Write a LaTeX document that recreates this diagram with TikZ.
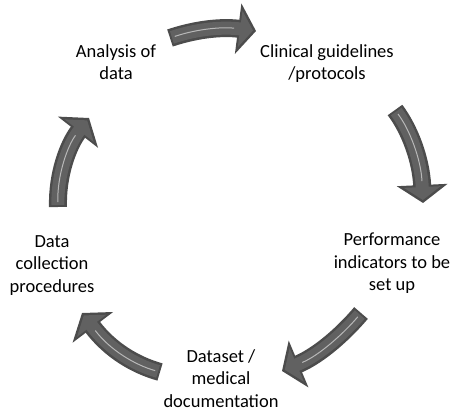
\documentclass[tikz,border=0pt]{standalone}
\usepackage{fontspec}
\setmainfont{Carlito}
\usetikzlibrary{arrows.meta}

\tikzset{
  lbl/.style={align=center, anchor=north, inner sep=0pt,
    font=\fontsize{18.5}{22.5}\selectfont},
  blockarrow/.style={line width=18pt, draw=black!70,
    -{Triangle[length=18pt,width=50pt]}},
  blockface/.style={line width=13pt, draw=black!62, shorten <=2pt,
    shorten >=3pt, -{Triangle[length=13pt,width=36pt]}},
  blockshine/.style={line width=1pt, draw=black!28, shorten <=5pt,
    shorten >=22pt}
}

% one grey block arrow: tail, two controls, tip
\newcommand\cyclearrow[4]{%
  \draw[blockarrow] (#1) .. controls (#2) and (#3) .. (#4);
  \draw[blockface] (#1) .. controls (#2) and (#3) .. (#4);
  \draw[blockshine] (#1) .. controls (#2) and (#3) .. (#4);
}

\begin{document}
\begin{tikzpicture}[x=1pt,y=-1pt]
\useasboundingbox (0,0) rectangle (454,411);

\node[lbl] (analysis) at (116,44) {Analysis of\\data};
\node[lbl] (guidelines) at (327,44) {Clinical guidelines\\/protocols};
\node[lbl] (indicators) at (392,233) {Performance\\indicators to be\\set up};
\node[lbl] (dataset) at (221,349) {Dataset /\\medical\\documentation};
\node[lbl] (collection) at (52,235) {Data\\collection\\procedures};

\coordinate (t1) at (170,38);  \coordinate (h1) at (256,31);
\coordinate (t2) at (395,110); \coordinate (h2) at (423,203);
\coordinate (t3) at (361,313); \coordinate (h3) at (282,371);
\coordinate (t4) at (160,372); \coordinate (h4) at (82,313);
\coordinate (t5) at (58,207);  \coordinate (h5) at (89,118);

\cyclearrow{t1}{200,28}{225,27}{h1}
\cyclearrow{t2}{410,130}{421,160}{h2}
\cyclearrow{t3}{345,332}{320,355}{h3}
\cyclearrow{t4}{135,365}{110,350}{h4}
\cyclearrow{t5}{57,175}{68,145}{h5}
\end{tikzpicture}
\end{document}
